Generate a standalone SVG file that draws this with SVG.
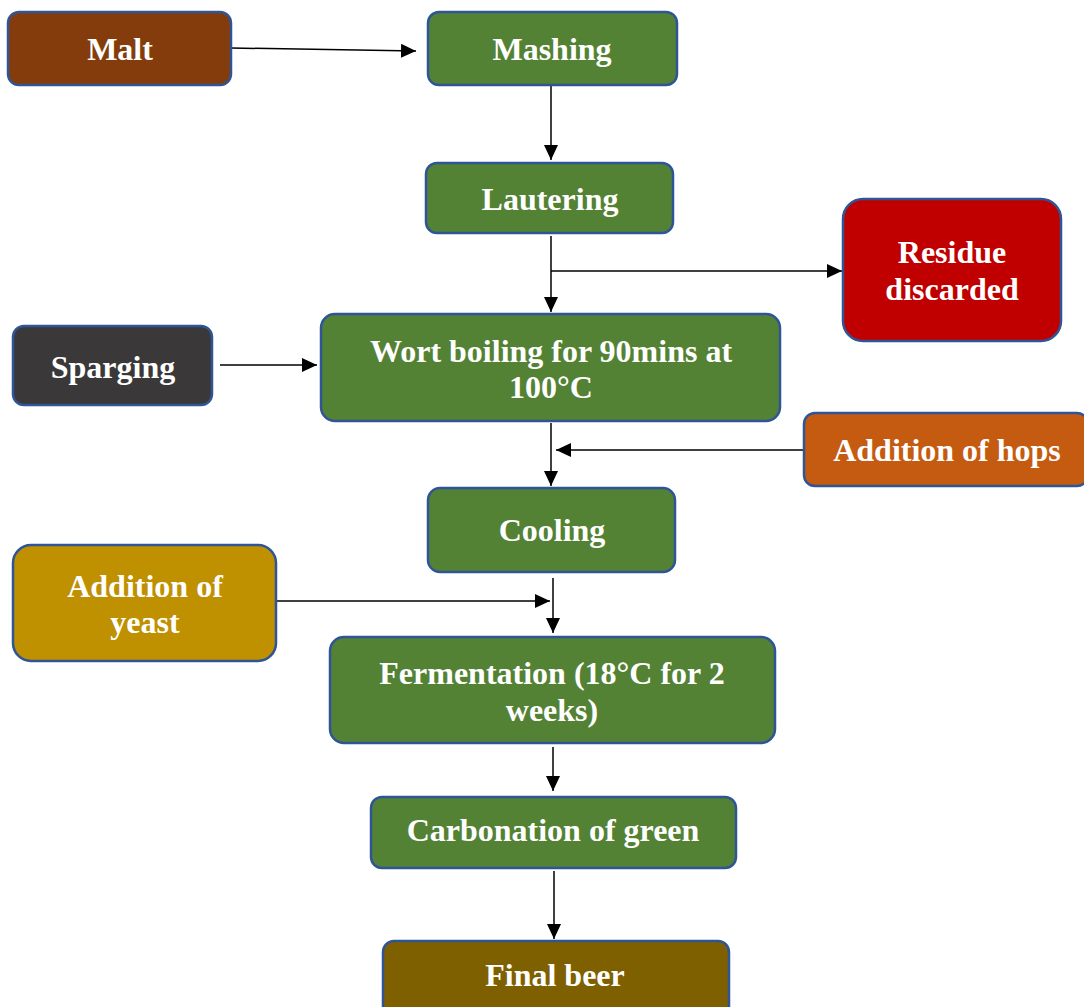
<svg xmlns="http://www.w3.org/2000/svg" width="1084" height="1007" viewBox="0 0 1084 1007">
<defs>
<marker id="ah" markerUnits="userSpaceOnUse" markerWidth="16" markerHeight="14" refX="15" refY="7" orient="auto">
<path d="M0,0 L15,7 L0,14 Z" fill="#000"/>
</marker>
<style>
.box{stroke:#2F5597;stroke-width:2.5}
.t{font-family:"Liberation Serif","Times New Roman",serif;font-weight:bold;font-size:32px;fill:#fff;text-anchor:middle}
.ca{stroke:#000;stroke-width:1.5;fill:none;marker-end:url(#ah)}
</style>
</defs>
<rect width="1084" height="1007" fill="#fff"/>
<g id="connectors">
<path class="ca" d="M231,48 L416,51"/>
<path class="ca" d="M551,86 L551,160"/>
<path class="ca" d="M551,236 L551,312"/>
<path class="ca" d="M551,271 L842,271"/>
<path class="ca" d="M220,365 L317,365"/>
<path class="ca" d="M551,423 L551,486"/>
<path class="ca" d="M804,450 L556,450"/>
<path class="ca" d="M553,578 L553,633"/>
<path class="ca" d="M276,601 L550,601"/>
<path class="ca" d="M553,747 L553,791"/>
<path class="ca" d="M554,871 L554,939"/>
</g>
<g id="malt"><rect class="box" x="8" y="12" width="223" height="73" rx="11" fill="#843C0C"/><text class="t" x="120" y="60">Malt</text></g>
<g id="mashing"><rect class="box" x="428" y="12" width="249" height="73" rx="11" fill="#548235"/><text class="t" x="552" y="60">Mashing</text></g>
<g id="lautering"><rect class="box" x="426" y="163" width="247" height="70" rx="11" fill="#548235"/><text class="t" x="550" y="210">Lautering</text></g>
<g id="residue"><rect class="box" x="843" y="199" width="218" height="142" rx="20" fill="#C00000"/><text class="t" x="952" y="263">Residue</text><text class="t" x="952" y="300">discarded</text></g>
<g id="sparging"><rect class="box" x="13" y="326" width="199" height="79" rx="11" fill="#3A3838"/><text class="t" x="113" y="378">Sparging</text></g>
<g id="wort"><rect class="box" x="321" y="314" width="459" height="107" rx="14" fill="#548235"/><text class="t" x="551" y="362">Wort boiling for 90mins at</text><text class="t" x="551" y="398">100°C</text></g>
<g id="hops"><rect class="box" x="804" y="413" width="284" height="73" rx="11" fill="#C55A11"/><text class="t" x="947" y="461">Addition of hops</text></g>
<g id="cooling"><rect class="box" x="428" y="488" width="247" height="84" rx="12" fill="#548235"/><text class="t" x="552" y="541">Cooling</text></g>
<g id="yeast"><rect class="box" x="13" y="545" width="263" height="116" rx="18" fill="#BF9000"/><text class="t" x="145" y="597">Addition of</text><text class="t" x="145" y="633">yeast</text></g>
<g id="fermentation"><rect class="box" x="330" y="637" width="445" height="106" rx="14" fill="#548235"/><text class="t" x="552" y="684">Fermentation (18°C for 2</text><text class="t" x="552" y="721">weeks)</text></g>
<g id="carbonation"><rect class="box" x="371" y="797" width="365" height="71" rx="11" fill="#548235"/><text class="t" x="553" y="841">Carbonation of green</text></g>
<g id="finalbeer"><rect class="box" x="383" y="941" width="346" height="80" rx="11" fill="#7F6000"/><text class="t" x="555" y="986">Final beer</text></g>
</svg>
